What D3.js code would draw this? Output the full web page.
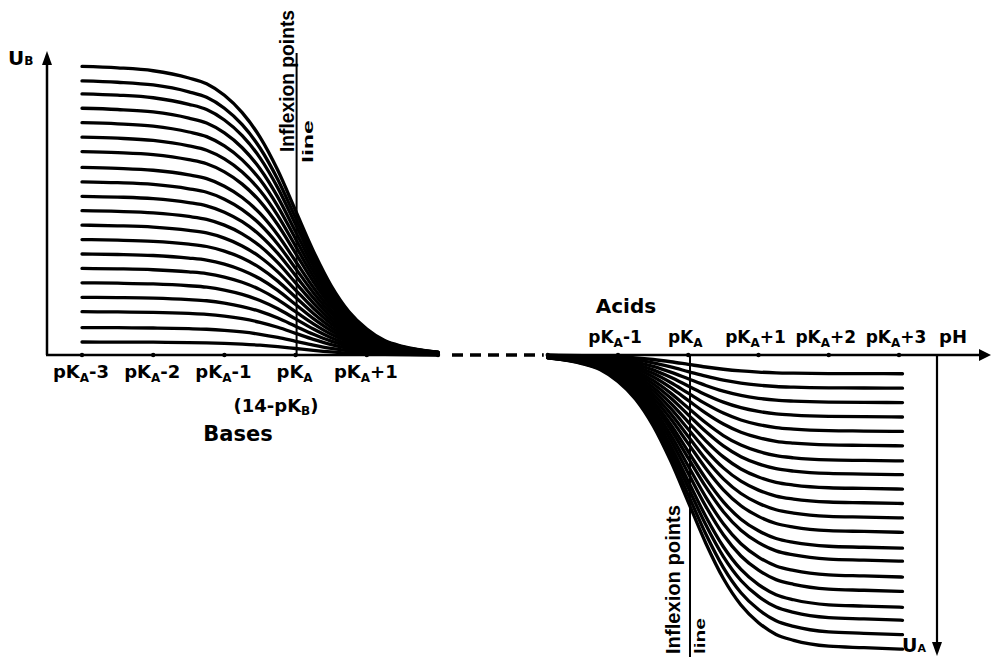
<!DOCTYPE html>
<html>
<head>
<meta charset="utf-8">
<script src="https://cdn.jsdelivr.net/npm/d3@7"></script>
<style>
  body { margin: 0; background: #fff; }
  svg { display: block; }
  text { font-family: "DejaVu Sans", sans-serif; font-weight: bold; fill: #000; }
</style>
</head>
<body>
<script>
// titration curves of bases (left, U_B up) and acids (right, U_A down)
// pH is given as offset from pKA

// tick positions and labels
var baseTicks = [-3, -2, -1, 0, 1];
var baseTickSuffix = ["-3", "-2", "-1", "", "+1"];
var baseDots = [-3, -2, -1, 0, 1, 2];
var acidTicks = [-1, 0, 1, 2, 3];
var acidTickSuffix = ["-1", "", "+1", "+2", "+3"];
var acidDots = [-2, -1, 0, 1, 2, 3];

// shape of one base curve (fraction of its plateau)
var baseOffsets = [-3, -2.5, -2, -1.5, -1.25, -1, -0.75, -0.5, -0.25, 0, 0.25, 0.5, 0.75, 1, 1.25, 1.5, 2];
var baseFractions = [1.0, 0.995, 0.985, 0.96, 0.94, 0.90, 0.84, 0.755, 0.64, 0.5, 0.36, 0.24, 0.15, 0.09, 0.05, 0.03, 0.01];

// shape of one acid curve
var acidOffsets = [-2, -1.5, -1.25, -1, -0.75, -0.5, -0.25, 0, 0.25, 0.5, 0.75, 1, 1.25, 1.5, 2, 2.5, 3.05];
var acidFractions = [0.01, 0.03, 0.05, 0.09, 0.15, 0.24, 0.36, 0.5, 0.64, 0.76, 0.85, 0.91, 0.95, 0.97, 0.99, 0.995, 1.0];

// plateau heights of the 20 curves (arbitrary units)
var basePlateaus = [20, 19, 18.1, 17.1, 16.1, 15.1, 14.1, 13, 12, 11, 10, 9, 8, 7, 6, 5, 4, 3, 1.9, 0.9];
var acidPlateaus = [1.3, 2.3, 3.3, 4.3, 5.3, 6.3, 7.35, 8.3, 9.3, 10.3, 11.3, 12.3, 13.4, 14.3, 15.4, 16.4, 17.5, 18.4, 19.4, 20.4];

window.onload = function()
{
  var width = 991, height = 657;
  var axisY = 355;

  var svg = d3.select("body").append("svg")
      .attr("width", width)
      .attr("height", height);

  var xB = d3.scaleLinear().domain([-3, 2]).range([82, 438]);
  var xA = d3.scaleLinear().domain([-1, 3]).range([618, 899]);
  var yB = d3.scaleLinear().domain([0, 21]).range([axisY, 52]);
  var yA = d3.scaleLinear().domain([0, 20.6]).range([axisY, 652]);

  // curves
  var baseLine = d3.line()
      .x(function(d) { return xB(d[0]); })
      .y(function(d) { return yB(d[1]); })
      .curve(d3.curveMonotoneX);

  var acidLine = d3.line()
      .x(function(d) { return xA(d[0]); })
      .y(function(d) { return yA(d[1]); })
      .curve(d3.curveMonotoneX);

  svg.selectAll(".base")
      .data(basePlateaus)
    .enter().append("path")
      .attr("class", "base")
      .attr("d", function(h) {
        return baseLine(baseOffsets.map(function(o, i) { return [o, h * baseFractions[i]]; }));
      })
      .attr("fill", "none")
      .attr("stroke", "#000")
      .attr("stroke-width", 3.3)
      .attr("stroke-linecap", "round");

  svg.selectAll(".acid")
      .data(acidPlateaus)
    .enter().append("path")
      .attr("class", "acid")
      .attr("d", function(h) {
        return acidLine(acidOffsets.map(function(o, i) { return [o, h * acidFractions[i]]; }));
      })
      .attr("fill", "none")
      .attr("stroke", "#000")
      .attr("stroke-width", 3.3)
      .attr("stroke-linecap", "round");

  // axes
  var ax = svg.append("g")
      .attr("stroke", "#000")
      .attr("fill", "none");

  ax.append("line").attr("x1", 47).attr("x2", 47).attr("y1", axisY).attr("y2", 60).attr("stroke-width", 2.5);
  ax.append("line").attr("x1", 46).attr("x2", xB(2)).attr("y1", axisY).attr("y2", axisY).attr("stroke-width", 2.5);
  ax.append("line").attr("x1", xB(2) + 14).attr("x2", xA(-2) - 4).attr("y1", axisY).attr("y2", axisY)
      .attr("stroke-width", 3.5).attr("stroke-dasharray", "11,7");
  ax.append("line").attr("x1", xA(-2)).attr("x2", 984).attr("y1", axisY).attr("y2", axisY).attr("stroke-width", 2.5);
  ax.append("line").attr("x1", 937).attr("x2", 937).attr("y1", axisY).attr("y2", 645).attr("stroke-width", 2.2);

  // inflexion lines
  ax.append("line").attr("x1", xB(0) + 1).attr("x2", xB(0) + 1).attr("y1", 53).attr("y2", axisY).attr("stroke-width", 2);
  ax.append("line").attr("x1", 690).attr("x2", 690).attr("y1", axisY).attr("y2", height).attr("stroke-width", 2);

  // arrow heads
  svg.append("path").attr("d", "M47,51 L42,65 L52,65 Z").attr("fill", "#000");
  svg.append("path").attr("d", "M991,355 L979,349 L979,361 Z").attr("fill", "#000");
  svg.append("path").attr("d", "M937,656 L932,642 L942,642 Z").attr("fill", "#000");

  // tick dots
  svg.selectAll(".bdot")
      .data(baseDots)
    .enter().append("circle")
      .attr("cx", function(d) { return xB(d); })
      .attr("cy", axisY)
      .attr("r", 2.2)
      .attr("fill", "#000");

  svg.selectAll(".adot")
      .data(acidDots)
    .enter().append("circle")
      .attr("cx", function(d) { return xA(d); })
      .attr("cy", axisY)
      .attr("r", 2.2)
      .attr("fill", "#000");

  // tick labels with subscript A
  function pkLabel(sel, suffix)
  {
    sel.append("tspan").text("pK");
    sel.append("tspan").text("A").attr("font-size", 12).attr("dy", 4);
    sel.append("tspan").text(suffix).attr("dy", -4);
  }

  baseTicks.forEach(function(t, i) {
    var txt = svg.append("text")
        .attr("x", xB(t) - 1)
        .attr("y", 378)
        .attr("font-size", 18)
        .attr("text-anchor", "middle");
    pkLabel(txt, baseTickSuffix[i]);
  });

  acidTicks.forEach(function(t, i) {
    var txt = svg.append("text")
        .attr("x", xA(t) - 3)
        .attr("y", 343)
        .attr("font-size", 17)
        .attr("text-anchor", "middle");
    pkLabel(txt, acidTickSuffix[i]);
  });

  svg.append("text").attr("x", 939).attr("y", 343).attr("font-size", 18).text("pH");

  var pkb = svg.append("text").attr("x", 276).attr("y", 412).attr("font-size", 18).attr("text-anchor", "middle");
  pkb.append("tspan").text("(14-pK");
  pkb.append("tspan").text("B").attr("font-size", 12).attr("dy", 3);
  pkb.append("tspan").text(")").attr("dy", -3);

  svg.append("text").attr("x", 238).attr("y", 441).attr("font-size", 21).attr("text-anchor", "middle").text("Bases");
  svg.append("text").attr("x", 626).attr("y", 313).attr("font-size", 20).attr("text-anchor", "middle").text("Acids");

  // axis names
  var ub = svg.append("text").attr("x", 8).attr("y", 65).attr("font-size", 20);
  ub.append("tspan").text("U");
  ub.append("tspan").text("B").attr("font-size", 12);

  var ua = svg.append("text").attr("x", 902).attr("y", 652).attr("font-size", 19);
  ua.append("tspan").text("U");
  ua.append("tspan").text("A").attr("font-size", 11);

  // rotated captions
  function vtext(x, y, str, size, len)
  {
    svg.append("text")
        .attr("transform", "translate(" + x + "," + y + ") rotate(-90)")
        .attr("font-size", size)
        .style("font-family", "'Liberation Sans', sans-serif")
        .style("font-weight", "bold")
        .attr("textLength", len)
        .attr("lengthAdjust", "spacingAndGlyphs")
        .text(str);
  }

  vtext(294, 152, "Inflexion points", 20, 142);
  vtext(313, 163, "line", 14, 43);
  vtext(680, 654, "Inflexion points", 20, 149);
  vtext(705, 654, "line", 14, 36);
};
</script>
</body>
</html>
